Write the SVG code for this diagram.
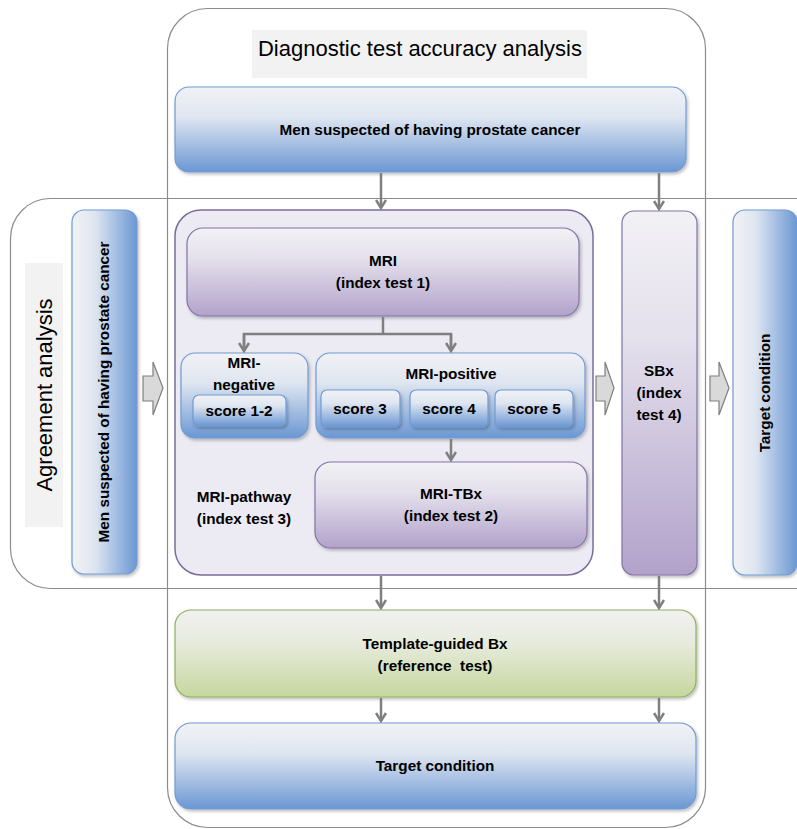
<svg xmlns="http://www.w3.org/2000/svg" width="797" height="829" viewBox="0 0 797 829">
<defs>
  <linearGradient id="blueV" x1="0" y1="0" x2="0" y2="1">
    <stop offset="0" stop-color="#f1f2f5"/>
    <stop offset="0.35" stop-color="#dfe6f1"/>
    <stop offset="1" stop-color="#6b97d3"/>
  </linearGradient>
  <linearGradient id="blueH" x1="0" y1="0" x2="1" y2="0">
    <stop offset="0" stop-color="#f1f2f5"/>
    <stop offset="0.35" stop-color="#dfe6f1"/>
    <stop offset="1" stop-color="#6b97d3"/>
  </linearGradient>
  <linearGradient id="purpleV" x1="0" y1="0" x2="0" y2="1">
    <stop offset="0" stop-color="#f2f1f5"/>
    <stop offset="0.35" stop-color="#e4e0ec"/>
    <stop offset="1" stop-color="#b2a2cb"/>
  </linearGradient>
  <linearGradient id="greenV" x1="0" y1="0" x2="0" y2="1">
    <stop offset="0" stop-color="#f1f1f0"/>
    <stop offset="0.35" stop-color="#e8ecdf"/>
    <stop offset="1" stop-color="#c6d79e"/>
  </linearGradient>
  <filter id="sh" x="-10%" y="-10%" width="130%" height="130%">
    <feDropShadow dx="1.5" dy="2" stdDeviation="1.5" flood-color="#000" flood-opacity="0.25"/>
  </filter>
  <marker id="ah" viewBox="0 0 12 12" refX="10" refY="6" markerWidth="12" markerHeight="12" orient="auto" markerUnits="userSpaceOnUse">
    <path d="M2,1 L10,6 L2,11" fill="none" stroke="#7f7f7f" stroke-width="2.5"/>
  </marker>
</defs>
<style>
  .frame { fill: none; stroke: #8c8c8c; stroke-width: 1.2; }
  .lbl { fill: #f2f2f2; }
  .blue { fill: url(#blueV); stroke: #6f9bd6; stroke-width: 1.2; filter: url(#sh); }
  .blueh { fill: url(#blueH); stroke: #6f9bd6; stroke-width: 1.2; filter: url(#sh); }
  .purple { fill: url(#purpleV); stroke: #8474a6; stroke-width: 1.2; filter: url(#sh); }
  .green { fill: url(#greenV); stroke: #90ae5c; stroke-width: 1.2; filter: url(#sh); }
  .cont { fill: #ecebf3; stroke: #7a6c9c; stroke-width: 1.5; }
  .blk { fill: #d9d9d9; stroke: #7f7f7f; stroke-width: 1.2; }
  .t { font-family: "Liberation Sans", Arial, sans-serif; font-weight: bold; font-size: 15.3px; fill: #000; text-anchor: middle; }
  .ts { font-family: "Liberation Sans", Arial, sans-serif; font-size: 22px; fill: #000; text-anchor: middle; }
  .con { fill: none; stroke: #7f7f7f; stroke-width: 2.5; }
</style>

<g id="frames">
  <rect class="frame" x="167.5" y="8.5" width="538" height="819" rx="40" ry="40"/>
  <path class="frame" d="M 820 198.5 H 50 A 40 40 0 0 0 10.5 238 V 548 A 40 40 0 0 0 50 588.5 H 820"/>
</g>

<g id="title-diagnostic">
  <rect class="lbl" x="252" y="30" width="335" height="48"/>
  <text class="ts" x="420" y="56">Diagnostic test accuracy analysis</text>
</g>

<g id="title-agreement">
  <rect class="lbl" x="25" y="263" width="38" height="264"/>
  <text class="ts" transform="rotate(-90 44 395)" x="44" y="403">Agreement analysis</text>
</g>

<g id="men-top">
  <rect class="blue" x="175" y="87" width="511" height="85" rx="14"/>
  <text class="t" x="430" y="135">Men suspected of having prostate cancer</text>
</g>

<g id="men-left">
  <rect class="blueh" x="72" y="210" width="65" height="364" rx="12"/>
  <text class="t" transform="rotate(-90 104 392)" x="104" y="397">Men suspected of having prostate cancer</text>
</g>

<g id="arrow-left">
  <polygon class="blk" points="143,376 153,376 153,362 163,388 153,415 153,401 143,401"/>
</g>

<g id="mri-pathway">
  <rect class="cont" x="175" y="210" width="418" height="365" rx="26"/>
  <text class="t" x="244" y="502">MRI-pathway</text>
  <text class="t" x="244" y="524">(index test 3)</text>
</g>

<g id="mri">
  <rect class="purple" x="187" y="228" width="392" height="88" rx="16"/>
  <text class="t" x="383" y="266">MRI</text>
  <text class="t" x="383" y="288">(index test 1)</text>
</g>

<g id="mri-negative">
  <rect class="blue" x="181" y="353" width="127" height="85" rx="14"/>
  <text class="t" x="244" y="368">MRI-</text>
  <text class="t" x="244" y="390">negative</text>
</g>
<g id="score12">
  <rect class="blue" x="193" y="395" width="93" height="31" rx="6"/>
  <text class="t" x="239" y="416">score 1-2</text>
</g>

<g id="mri-positive">
  <rect class="blue" x="316" y="353" width="269" height="85" rx="14"/>
  <text class="t" x="451" y="379">MRI-positive</text>
</g>
<g id="score3">
  <rect class="blue" x="321" y="390" width="79" height="37" rx="6"/>
  <text class="t" x="360" y="414">score 3</text>
</g>
<g id="score4">
  <rect class="blue" x="410" y="390" width="78" height="37" rx="6"/>
  <text class="t" x="449" y="414">score 4</text>
</g>
<g id="score5">
  <rect class="blue" x="495" y="390" width="78" height="37" rx="6"/>
  <text class="t" x="534" y="414">score 5</text>
</g>

<g id="mri-tbx">
  <rect class="purple" x="315" y="462" width="272" height="86" rx="16"/>
  <text class="t" x="451" y="499">MRI-TBx</text>
  <text class="t" x="451" y="521">(index test 2)</text>
</g>

<g id="arrow-mid">
  <polygon class="blk" points="596,376 605,376 605,362 614,388 605,415 605,401 596,401"/>
</g>

<g id="sbx">
  <rect class="purple" x="622" y="211" width="75" height="364" rx="12"/>
  <text class="t" x="659" y="376">SBx</text>
  <text class="t" x="659" y="398">(index</text>
  <text class="t" x="659" y="420">test 4)</text>
</g>

<g id="arrow-right">
  <polygon class="blk" points="710,376 719,376 719,362 729,388 719,415 719,401 710,401"/>
</g>

<g id="target-right">
  <rect class="blueh" x="733" y="210" width="64" height="365" rx="12"/>
  <text class="t" transform="rotate(-90 765 393)" x="765" y="398">Target condition</text>
</g>

<g id="template-bx">
  <rect class="green" x="175" y="610" width="521" height="87" rx="16"/>
  <text class="t" x="435" y="649">Template-guided Bx</text>
  <text class="t" x="435" y="671" xml:space="preserve">(reference  test)</text>
</g>

<g id="target-bottom">
  <rect class="blue" x="175" y="723" width="521" height="86" rx="16"/>
  <text class="t" x="435" y="771">Target condition</text>
</g>

<g id="connectors">
  <line class="con" x1="381" y1="173" x2="381" y2="208" marker-end="url(#ah)"/>
  <line class="con" x1="659" y1="173" x2="659" y2="209" marker-end="url(#ah)"/>
  <path class="con" d="M 383 317 V 334 M 244 351 V 334 H 451 V 351"/>
  <line class="con" x1="244" y1="334" x2="244" y2="351" marker-end="url(#ah)"/>
  <line class="con" x1="451" y1="334" x2="451" y2="351" marker-end="url(#ah)"/>
  <line class="con" x1="451" y1="439" x2="451" y2="460" marker-end="url(#ah)"/>
  <line class="con" x1="381" y1="576" x2="381" y2="608" marker-end="url(#ah)"/>
  <line class="con" x1="659" y1="576" x2="659" y2="608" marker-end="url(#ah)"/>
  <line class="con" x1="381" y1="698" x2="381" y2="721" marker-end="url(#ah)"/>
  <line class="con" x1="659" y1="698" x2="659" y2="721" marker-end="url(#ah)"/>
</g>
</svg>
